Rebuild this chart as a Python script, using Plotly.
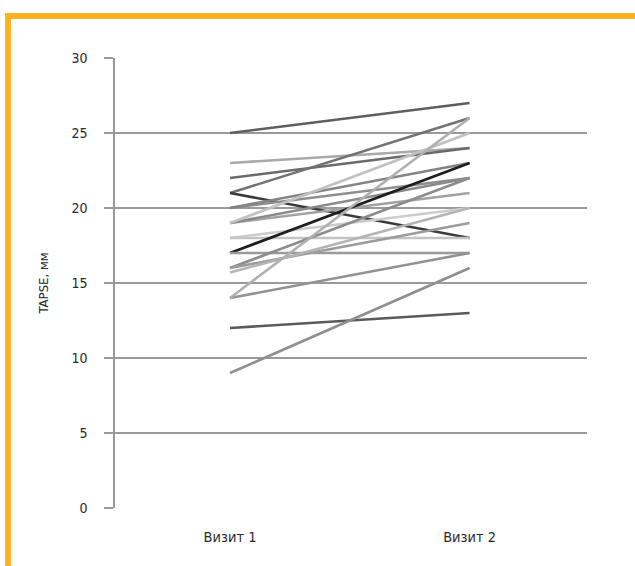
import plotly.graph_objects as go

visits = ["Визит 1", "Визит 2"]
visit_pos = [0, 1]
y_ticks = [0, 5, 10, 15, 20, 25, 30]

visit1 = [25, 23, 22, 21, 21, 20, 20, 19, 19, 19, 18, 18, 17, 17, 16, 16, 15.7, 14, 14, 12, 9]
visit2 = [27, 24, 24, 26, 18, 22, 23, 21, 22, 25, 20, 18, 23, 17, 22, 19, 20, 17, 26, 13, 16]
line_colors = ["#5e5e5e", "#a9a9a9", "#6a6a6a", "#727272", "#3a3a3a", "#8e8e8e", "#848484",
               "#a2a2a2", "#8a8a8a", "#c2c2c2", "#cccccc", "#c4c4c4", "#1e1e1e", "#9a9a9a",
               "#8c8c8c", "#9c9c9c", "#b4b4b4", "#929292", "#b0b0b0", "#5a5a5a", "#8f8f8f"]

fig = go.Figure()
for a, b, c in zip(visit1, visit2, line_colors):
    fig.add_trace(go.Scatter(x=visit_pos, y=[a, b], mode="lines",
                             line=dict(color=c, width=2.6), showlegend=False,
                             hoverinfo="skip"))

W, H = 635, 566
L, R, T, B = 115, 48, 58, 58
pw, ph = W - L - R, H - T - B

def px(x):
    return (x - L) / pw

def py(y):
    return (H - B - y) / ph

orange = "#FBB325"
shapes = [
    dict(type="rect", xref="paper", yref="paper", x0=px(5), x1=px(640), y0=py(19), y1=py(13),
         fillcolor=orange, line=dict(width=0), layer="above"),
    dict(type="rect", xref="paper", yref="paper", x0=px(5), x1=px(11), y0=py(570), y1=py(13),
         fillcolor=orange, line=dict(width=0), layer="above"),
]

font_family = "Liberation Sans Narrow, DejaVu Sans Condensed, Arial Narrow, Liberation Sans, sans-serif"

fig.update_layout(
    width=W, height=H,
    margin=dict(l=L, r=R, t=T, b=B),
    paper_bgcolor="white", plot_bgcolor="white",
    shapes=shapes,
    font=dict(family=font_family, size=14, color="#2a2a2a"),
    xaxis=dict(range=[-0.48, 1.49], tickvals=visit_pos, ticktext=visits,
               showgrid=False, zeroline=False, showline=False, ticks="",
               ticklabelstandoff=18, tickfont=dict(size=14.5, family=font_family)),
    yaxis=dict(range=[0, 30], tickvals=y_ticks, showgrid=True, gridcolor="#9a9a9a",
               gridwidth=1.5, zeroline=False, showline=True, linecolor="#9a9a9a",
               linewidth=1.5, ticks="outside", ticklen=9, tickcolor="#9a9a9a",
               tickwidth=1.5, ticklabelstandoff=14,
               tickfont=dict(size=14, family=font_family),
               title=dict(text="TAPSE, мм", font=dict(size=13, family=font_family), standoff=20)),
)

fig.write_html("out.html", config={"displayModeBar": False},
               post_script="document.body.style.margin='0';document.body.style.overflow='hidden';")
